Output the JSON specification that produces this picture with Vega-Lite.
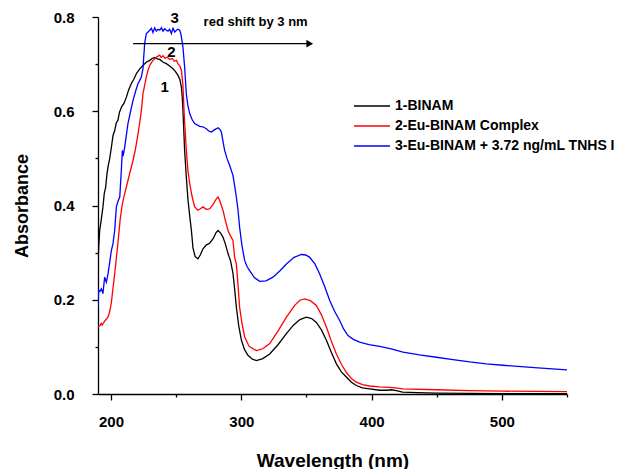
{
  "$schema": "https://vega.github.io/schema/vega-lite/v6.json",
  "autosize": {"type": "none"},
  "width": 469,
  "height": 377,
  "padding": {"left": 98, "top": 17, "right": 54, "bottom": 75},
  "background": "white",
  "config": {
    "view": {"stroke": null},
    "font": "Liberation Sans",
    "axis": {
      "domainColor": "#000000", "domainWidth": 1.3,
      "tickColor": "#000000", "tickWidth": 1.3, "tickSize": 6,
      "labelFont": "Liberation Sans", "labelFontWeight": "bold", "labelFontSize": 15, "labelColor": "#000000",
      "titleFont": "Liberation Sans", "titleFontWeight": "bold", "titleColor": "#000000",
      "grid": false
    }
  },
  "datasets": {
    "spectra": [
      {"series": "1-BINAM", "wavelength": 190.0, "absorbance": 0.27},
      {"series": "1-BINAM", "wavelength": 190.5, "absorbance": 0.31},
      {"series": "1-BINAM", "wavelength": 191.3, "absorbance": 0.347},
      {"series": "1-BINAM", "wavelength": 192.5, "absorbance": 0.37},
      {"series": "1-BINAM", "wavelength": 193.8, "absorbance": 0.397},
      {"series": "1-BINAM", "wavelength": 194.8, "absorbance": 0.425},
      {"series": "1-BINAM", "wavelength": 195.9, "absorbance": 0.439},
      {"series": "1-BINAM", "wavelength": 196.8, "absorbance": 0.465},
      {"series": "1-BINAM", "wavelength": 197.7, "absorbance": 0.482},
      {"series": "1-BINAM", "wavelength": 199.0, "absorbance": 0.5},
      {"series": "1-BINAM", "wavelength": 200.3, "absorbance": 0.524},
      {"series": "1-BINAM", "wavelength": 201.5, "absorbance": 0.548},
      {"series": "1-BINAM", "wavelength": 202.8, "absorbance": 0.559},
      {"series": "1-BINAM", "wavelength": 204.0, "absorbance": 0.575},
      {"series": "1-BINAM", "wavelength": 205.3, "absorbance": 0.581},
      {"series": "1-BINAM", "wavelength": 206.5, "absorbance": 0.598},
      {"series": "1-BINAM", "wavelength": 208.0, "absorbance": 0.609},
      {"series": "1-BINAM", "wavelength": 210.0, "absorbance": 0.617},
      {"series": "1-BINAM", "wavelength": 211.8, "absorbance": 0.63},
      {"series": "1-BINAM", "wavelength": 213.5, "absorbance": 0.645},
      {"series": "1-BINAM", "wavelength": 215.6, "absorbance": 0.659},
      {"series": "1-BINAM", "wavelength": 217.5, "absorbance": 0.668},
      {"series": "1-BINAM", "wavelength": 219.5, "absorbance": 0.68},
      {"series": "1-BINAM", "wavelength": 222.0, "absorbance": 0.69},
      {"series": "1-BINAM", "wavelength": 224.5, "absorbance": 0.697},
      {"series": "1-BINAM", "wavelength": 227.0, "absorbance": 0.704},
      {"series": "1-BINAM", "wavelength": 229.7, "absorbance": 0.708},
      {"series": "1-BINAM", "wavelength": 231.5, "absorbance": 0.712},
      {"series": "1-BINAM", "wavelength": 233.5, "absorbance": 0.714},
      {"series": "1-BINAM", "wavelength": 235.5, "absorbance": 0.711},
      {"series": "1-BINAM", "wavelength": 237.4, "absorbance": 0.71},
      {"series": "1-BINAM", "wavelength": 240.0, "absorbance": 0.704},
      {"series": "1-BINAM", "wavelength": 242.5, "absorbance": 0.701},
      {"series": "1-BINAM", "wavelength": 245.0, "absorbance": 0.696},
      {"series": "1-BINAM", "wavelength": 247.6, "absorbance": 0.69},
      {"series": "1-BINAM", "wavelength": 249.5, "absorbance": 0.684},
      {"series": "1-BINAM", "wavelength": 251.4, "absorbance": 0.676},
      {"series": "1-BINAM", "wavelength": 252.8, "absorbance": 0.668},
      {"series": "1-BINAM", "wavelength": 254.0, "absorbance": 0.651},
      {"series": "1-BINAM", "wavelength": 254.7, "absorbance": 0.63},
      {"series": "1-BINAM", "wavelength": 255.2, "absorbance": 0.602},
      {"series": "1-BINAM", "wavelength": 256.5, "absorbance": 0.517},
      {"series": "1-BINAM", "wavelength": 257.8, "absorbance": 0.46},
      {"series": "1-BINAM", "wavelength": 259.1, "absorbance": 0.411},
      {"series": "1-BINAM", "wavelength": 260.4, "absorbance": 0.378},
      {"series": "1-BINAM", "wavelength": 261.7, "absorbance": 0.347},
      {"series": "1-BINAM", "wavelength": 262.9, "absorbance": 0.31},
      {"series": "1-BINAM", "wavelength": 264.5, "absorbance": 0.292},
      {"series": "1-BINAM", "wavelength": 266.7, "absorbance": 0.287},
      {"series": "1-BINAM", "wavelength": 268.5, "absorbance": 0.295},
      {"series": "1-BINAM", "wavelength": 270.6, "absorbance": 0.308},
      {"series": "1-BINAM", "wavelength": 273.0, "absorbance": 0.316},
      {"series": "1-BINAM", "wavelength": 275.7, "absorbance": 0.32},
      {"series": "1-BINAM", "wavelength": 278.5, "absorbance": 0.33},
      {"series": "1-BINAM", "wavelength": 280.5, "absorbance": 0.342},
      {"series": "1-BINAM", "wavelength": 282.1, "absorbance": 0.347},
      {"series": "1-BINAM", "wavelength": 284.0, "absorbance": 0.342},
      {"series": "1-BINAM", "wavelength": 285.9, "absorbance": 0.333},
      {"series": "1-BINAM", "wavelength": 287.8, "absorbance": 0.318},
      {"series": "1-BINAM", "wavelength": 289.8, "absorbance": 0.298},
      {"series": "1-BINAM", "wavelength": 291.8, "absorbance": 0.282},
      {"series": "1-BINAM", "wavelength": 293.6, "absorbance": 0.256},
      {"series": "1-BINAM", "wavelength": 295.0, "absorbance": 0.22},
      {"series": "1-BINAM", "wavelength": 296.2, "absorbance": 0.184},
      {"series": "1-BINAM", "wavelength": 298.0, "absorbance": 0.145},
      {"series": "1-BINAM", "wavelength": 300.1, "absorbance": 0.114},
      {"series": "1-BINAM", "wavelength": 302.5, "absorbance": 0.094},
      {"series": "1-BINAM", "wavelength": 305.1, "absorbance": 0.082},
      {"series": "1-BINAM", "wavelength": 308.5, "absorbance": 0.074},
      {"series": "1-BINAM", "wavelength": 311.6, "absorbance": 0.071},
      {"series": "1-BINAM", "wavelength": 316.5, "absorbance": 0.075},
      {"series": "1-BINAM", "wavelength": 321.8, "absorbance": 0.085},
      {"series": "1-BINAM", "wavelength": 328.0, "absorbance": 0.104},
      {"series": "1-BINAM", "wavelength": 334.6, "absorbance": 0.128},
      {"series": "1-BINAM", "wavelength": 340.0, "absorbance": 0.146},
      {"series": "1-BINAM", "wavelength": 345.0, "absorbance": 0.158},
      {"series": "1-BINAM", "wavelength": 349.9, "absorbance": 0.163},
      {"series": "1-BINAM", "wavelength": 354.0, "absorbance": 0.16},
      {"series": "1-BINAM", "wavelength": 357.6, "absorbance": 0.152},
      {"series": "1-BINAM", "wavelength": 361.5, "absorbance": 0.136},
      {"series": "1-BINAM", "wavelength": 365.3, "absorbance": 0.114},
      {"series": "1-BINAM", "wavelength": 369.0, "absorbance": 0.089},
      {"series": "1-BINAM", "wavelength": 373.0, "absorbance": 0.064},
      {"series": "1-BINAM", "wavelength": 376.8, "absorbance": 0.047},
      {"series": "1-BINAM", "wavelength": 380.6, "absorbance": 0.036},
      {"series": "1-BINAM", "wavelength": 384.5, "absorbance": 0.025},
      {"series": "1-BINAM", "wavelength": 388.3, "absorbance": 0.018},
      {"series": "1-BINAM", "wavelength": 393.0, "absorbance": 0.013},
      {"series": "1-BINAM", "wavelength": 398.5, "absorbance": 0.011},
      {"series": "1-BINAM", "wavelength": 406.2, "absorbance": 0.008},
      {"series": "1-BINAM", "wavelength": 412.0, "absorbance": 0.008},
      {"series": "1-BINAM", "wavelength": 415.2, "absorbance": 0.009},
      {"series": "1-BINAM", "wavelength": 419.0, "absorbance": 0.007},
      {"series": "1-BINAM", "wavelength": 423.8, "absorbance": 0.004},
      {"series": "1-BINAM", "wavelength": 435.0, "absorbance": 0.003},
      {"series": "1-BINAM", "wavelength": 449.7, "absorbance": 0.002},
      {"series": "1-BINAM", "wavelength": 500.0, "absorbance": 0.001},
      {"series": "1-BINAM", "wavelength": 550.0, "absorbance": 0.001},

      {"series": "2-Eu-BINAM Complex", "wavelength": 190.0, "absorbance": 0.142},
      {"series": "2-Eu-BINAM Complex", "wavelength": 191.5, "absorbance": 0.145},
      {"series": "2-Eu-BINAM Complex", "wavelength": 192.5, "absorbance": 0.15},
      {"series": "2-Eu-BINAM Complex", "wavelength": 193.2, "absorbance": 0.146},
      {"series": "2-Eu-BINAM Complex", "wavelength": 193.8, "absorbance": 0.149},
      {"series": "2-Eu-BINAM Complex", "wavelength": 195.5, "absorbance": 0.156},
      {"series": "2-Eu-BINAM Complex", "wavelength": 197.7, "absorbance": 0.163},
      {"series": "2-Eu-BINAM Complex", "wavelength": 199.0, "absorbance": 0.175},
      {"series": "2-Eu-BINAM Complex", "wavelength": 200.3, "absorbance": 0.195},
      {"series": "2-Eu-BINAM Complex", "wavelength": 203.0, "absorbance": 0.26},
      {"series": "2-Eu-BINAM Complex", "wavelength": 205.3, "absorbance": 0.32},
      {"series": "2-Eu-BINAM Complex", "wavelength": 207.0, "absorbance": 0.37},
      {"series": "2-Eu-BINAM Complex", "wavelength": 208.5, "absorbance": 0.4},
      {"series": "2-Eu-BINAM Complex", "wavelength": 210.0, "absorbance": 0.42},
      {"series": "2-Eu-BINAM Complex", "wavelength": 213.0, "absorbance": 0.453},
      {"series": "2-Eu-BINAM Complex", "wavelength": 216.9, "absorbance": 0.496},
      {"series": "2-Eu-BINAM Complex", "wavelength": 218.8, "absorbance": 0.52},
      {"series": "2-Eu-BINAM Complex", "wavelength": 220.7, "absorbance": 0.552},
      {"series": "2-Eu-BINAM Complex", "wavelength": 222.0, "absorbance": 0.575},
      {"series": "2-Eu-BINAM Complex", "wavelength": 223.3, "absorbance": 0.602},
      {"series": "2-Eu-BINAM Complex", "wavelength": 224.5, "absorbance": 0.637},
      {"series": "2-Eu-BINAM Complex", "wavelength": 225.8, "absorbance": 0.655},
      {"series": "2-Eu-BINAM Complex", "wavelength": 227.1, "absorbance": 0.673},
      {"series": "2-Eu-BINAM Complex", "wavelength": 228.5, "absorbance": 0.688},
      {"series": "2-Eu-BINAM Complex", "wavelength": 229.7, "absorbance": 0.697},
      {"series": "2-Eu-BINAM Complex", "wavelength": 231.0, "absorbance": 0.703},
      {"series": "2-Eu-BINAM Complex", "wavelength": 232.2, "absorbance": 0.708},
      {"series": "2-Eu-BINAM Complex", "wavelength": 234.0, "absorbance": 0.712},
      {"series": "2-Eu-BINAM Complex", "wavelength": 235.5, "absorbance": 0.716},
      {"series": "2-Eu-BINAM Complex", "wavelength": 237.4, "absorbance": 0.719},
      {"series": "2-Eu-BINAM Complex", "wavelength": 238.5, "absorbance": 0.714},
      {"series": "2-Eu-BINAM Complex", "wavelength": 239.9, "absorbance": 0.718},
      {"series": "2-Eu-BINAM Complex", "wavelength": 241.5, "absorbance": 0.712},
      {"series": "2-Eu-BINAM Complex", "wavelength": 243.0, "absorbance": 0.715},
      {"series": "2-Eu-BINAM Complex", "wavelength": 245.0, "absorbance": 0.71},
      {"series": "2-Eu-BINAM Complex", "wavelength": 247.0, "absorbance": 0.712},
      {"series": "2-Eu-BINAM Complex", "wavelength": 248.5, "absorbance": 0.706},
      {"series": "2-Eu-BINAM Complex", "wavelength": 250.2, "absorbance": 0.708},
      {"series": "2-Eu-BINAM Complex", "wavelength": 251.5, "absorbance": 0.7},
      {"series": "2-Eu-BINAM Complex", "wavelength": 252.7, "absorbance": 0.697},
      {"series": "2-Eu-BINAM Complex", "wavelength": 254.0, "absorbance": 0.687},
      {"series": "2-Eu-BINAM Complex", "wavelength": 255.2, "absorbance": 0.655},
      {"series": "2-Eu-BINAM Complex", "wavelength": 256.2, "absorbance": 0.591},
      {"series": "2-Eu-BINAM Complex", "wavelength": 257.8, "absorbance": 0.517},
      {"series": "2-Eu-BINAM Complex", "wavelength": 259.0, "absorbance": 0.475},
      {"series": "2-Eu-BINAM Complex", "wavelength": 260.4, "absorbance": 0.446},
      {"series": "2-Eu-BINAM Complex", "wavelength": 262.3, "absorbance": 0.418},
      {"series": "2-Eu-BINAM Complex", "wavelength": 264.2, "absorbance": 0.397},
      {"series": "2-Eu-BINAM Complex", "wavelength": 266.7, "absorbance": 0.39},
      {"series": "2-Eu-BINAM Complex", "wavelength": 268.5, "absorbance": 0.393},
      {"series": "2-Eu-BINAM Complex", "wavelength": 270.6, "absorbance": 0.397},
      {"series": "2-Eu-BINAM Complex", "wavelength": 273.0, "absorbance": 0.392},
      {"series": "2-Eu-BINAM Complex", "wavelength": 275.7, "absorbance": 0.393},
      {"series": "2-Eu-BINAM Complex", "wavelength": 278.5, "absorbance": 0.403},
      {"series": "2-Eu-BINAM Complex", "wavelength": 280.8, "absorbance": 0.414},
      {"series": "2-Eu-BINAM Complex", "wavelength": 282.1, "absorbance": 0.418},
      {"series": "2-Eu-BINAM Complex", "wavelength": 283.5, "absorbance": 0.41},
      {"series": "2-Eu-BINAM Complex", "wavelength": 285.9, "absorbance": 0.39},
      {"series": "2-Eu-BINAM Complex", "wavelength": 287.8, "absorbance": 0.368},
      {"series": "2-Eu-BINAM Complex", "wavelength": 289.8, "absorbance": 0.347},
      {"series": "2-Eu-BINAM Complex", "wavelength": 291.8, "absorbance": 0.335},
      {"series": "2-Eu-BINAM Complex", "wavelength": 293.6, "absorbance": 0.326},
      {"series": "2-Eu-BINAM Complex", "wavelength": 294.9, "absorbance": 0.29},
      {"series": "2-Eu-BINAM Complex", "wavelength": 296.2, "absorbance": 0.276},
      {"series": "2-Eu-BINAM Complex", "wavelength": 297.5, "absorbance": 0.23},
      {"series": "2-Eu-BINAM Complex", "wavelength": 298.7, "absorbance": 0.184},
      {"series": "2-Eu-BINAM Complex", "wavelength": 300.5, "absorbance": 0.15},
      {"series": "2-Eu-BINAM Complex", "wavelength": 302.6, "absorbance": 0.121},
      {"series": "2-Eu-BINAM Complex", "wavelength": 306.0, "absorbance": 0.101},
      {"series": "2-Eu-BINAM Complex", "wavelength": 311.6, "absorbance": 0.092},
      {"series": "2-Eu-BINAM Complex", "wavelength": 316.5, "absorbance": 0.096},
      {"series": "2-Eu-BINAM Complex", "wavelength": 321.8, "absorbance": 0.107},
      {"series": "2-Eu-BINAM Complex", "wavelength": 328.0, "absorbance": 0.133},
      {"series": "2-Eu-BINAM Complex", "wavelength": 334.6, "absorbance": 0.163},
      {"series": "2-Eu-BINAM Complex", "wavelength": 341.0, "absorbance": 0.188},
      {"series": "2-Eu-BINAM Complex", "wavelength": 345.0, "absorbance": 0.199},
      {"series": "2-Eu-BINAM Complex", "wavelength": 348.6, "absorbance": 0.202},
      {"series": "2-Eu-BINAM Complex", "wavelength": 353.0, "absorbance": 0.198},
      {"series": "2-Eu-BINAM Complex", "wavelength": 357.6, "absorbance": 0.188},
      {"series": "2-Eu-BINAM Complex", "wavelength": 361.5, "absorbance": 0.168},
      {"series": "2-Eu-BINAM Complex", "wavelength": 365.3, "absorbance": 0.142},
      {"series": "2-Eu-BINAM Complex", "wavelength": 369.0, "absorbance": 0.113},
      {"series": "2-Eu-BINAM Complex", "wavelength": 373.0, "absorbance": 0.085},
      {"series": "2-Eu-BINAM Complex", "wavelength": 376.8, "absorbance": 0.063},
      {"series": "2-Eu-BINAM Complex", "wavelength": 380.6, "absorbance": 0.046},
      {"series": "2-Eu-BINAM Complex", "wavelength": 384.5, "absorbance": 0.033},
      {"series": "2-Eu-BINAM Complex", "wavelength": 388.3, "absorbance": 0.025},
      {"series": "2-Eu-BINAM Complex", "wavelength": 393.0, "absorbance": 0.02},
      {"series": "2-Eu-BINAM Complex", "wavelength": 398.5, "absorbance": 0.017},
      {"series": "2-Eu-BINAM Complex", "wavelength": 406.0, "absorbance": 0.015},
      {"series": "2-Eu-BINAM Complex", "wavelength": 413.8, "absorbance": 0.014},
      {"series": "2-Eu-BINAM Complex", "wavelength": 418.0, "absorbance": 0.013},
      {"series": "2-Eu-BINAM Complex", "wavelength": 424.1, "absorbance": 0.011},
      {"series": "2-Eu-BINAM Complex", "wavelength": 449.7, "absorbance": 0.009},
      {"series": "2-Eu-BINAM Complex", "wavelength": 475.0, "absorbance": 0.007},
      {"series": "2-Eu-BINAM Complex", "wavelength": 500.8, "absorbance": 0.006},
      {"series": "2-Eu-BINAM Complex", "wavelength": 550.0, "absorbance": 0.005},

      {"series": "3-Eu-BINAM + 3.72 ng/mL TNHS I", "wavelength": 190.0, "absorbance": 0.184},
      {"series": "3-Eu-BINAM + 3.72 ng/mL TNHS I", "wavelength": 190.5, "absorbance": 0.22},
      {"series": "3-Eu-BINAM + 3.72 ng/mL TNHS I", "wavelength": 191.5, "absorbance": 0.218},
      {"series": "3-Eu-BINAM + 3.72 ng/mL TNHS I", "wavelength": 192.6, "absorbance": 0.223},
      {"series": "3-Eu-BINAM + 3.72 ng/mL TNHS I", "wavelength": 193.8, "absorbance": 0.213},
      {"series": "3-Eu-BINAM + 3.72 ng/mL TNHS I", "wavelength": 195.1, "absorbance": 0.248},
      {"series": "3-Eu-BINAM + 3.72 ng/mL TNHS I", "wavelength": 196.4, "absorbance": 0.237},
      {"series": "3-Eu-BINAM + 3.72 ng/mL TNHS I", "wavelength": 197.7, "absorbance": 0.255},
      {"series": "3-Eu-BINAM + 3.72 ng/mL TNHS I", "wavelength": 199.0, "absorbance": 0.28},
      {"series": "3-Eu-BINAM + 3.72 ng/mL TNHS I", "wavelength": 200.3, "absorbance": 0.305},
      {"series": "3-Eu-BINAM + 3.72 ng/mL TNHS I", "wavelength": 201.5, "absorbance": 0.319},
      {"series": "3-Eu-BINAM + 3.72 ng/mL TNHS I", "wavelength": 202.8, "absorbance": 0.347},
      {"series": "3-Eu-BINAM + 3.72 ng/mL TNHS I", "wavelength": 204.1, "absorbance": 0.397},
      {"series": "3-Eu-BINAM + 3.72 ng/mL TNHS I", "wavelength": 205.5, "absorbance": 0.41},
      {"series": "3-Eu-BINAM + 3.72 ng/mL TNHS I", "wavelength": 206.7, "absorbance": 0.418},
      {"series": "3-Eu-BINAM + 3.72 ng/mL TNHS I", "wavelength": 207.8, "absorbance": 0.47},
      {"series": "3-Eu-BINAM + 3.72 ng/mL TNHS I", "wavelength": 208.7, "absorbance": 0.517},
      {"series": "3-Eu-BINAM + 3.72 ng/mL TNHS I", "wavelength": 209.3, "absorbance": 0.505},
      {"series": "3-Eu-BINAM + 3.72 ng/mL TNHS I", "wavelength": 210.5, "absorbance": 0.524},
      {"series": "3-Eu-BINAM + 3.72 ng/mL TNHS I", "wavelength": 211.8, "absorbance": 0.55},
      {"series": "3-Eu-BINAM + 3.72 ng/mL TNHS I", "wavelength": 213.0, "absorbance": 0.574},
      {"series": "3-Eu-BINAM + 3.72 ng/mL TNHS I", "wavelength": 215.0, "absorbance": 0.6},
      {"series": "3-Eu-BINAM + 3.72 ng/mL TNHS I", "wavelength": 216.9, "absorbance": 0.623},
      {"series": "3-Eu-BINAM + 3.72 ng/mL TNHS I", "wavelength": 218.8, "absorbance": 0.642},
      {"series": "3-Eu-BINAM + 3.72 ng/mL TNHS I", "wavelength": 220.7, "absorbance": 0.659},
      {"series": "3-Eu-BINAM + 3.72 ng/mL TNHS I", "wavelength": 222.0, "absorbance": 0.665},
      {"series": "3-Eu-BINAM + 3.72 ng/mL TNHS I", "wavelength": 223.3, "absorbance": 0.673},
      {"series": "3-Eu-BINAM + 3.72 ng/mL TNHS I", "wavelength": 224.5, "absorbance": 0.69},
      {"series": "3-Eu-BINAM + 3.72 ng/mL TNHS I", "wavelength": 225.1, "absorbance": 0.715},
      {"series": "3-Eu-BINAM + 3.72 ng/mL TNHS I", "wavelength": 225.5, "absorbance": 0.73},
      {"series": "3-Eu-BINAM + 3.72 ng/mL TNHS I", "wavelength": 225.8, "absorbance": 0.744},
      {"series": "3-Eu-BINAM + 3.72 ng/mL TNHS I", "wavelength": 227.1, "absorbance": 0.765},
      {"series": "3-Eu-BINAM + 3.72 ng/mL TNHS I", "wavelength": 228.4, "absorbance": 0.768},
      {"series": "3-Eu-BINAM + 3.72 ng/mL TNHS I", "wavelength": 229.7, "absorbance": 0.772},
      {"series": "3-Eu-BINAM + 3.72 ng/mL TNHS I", "wavelength": 231.0, "absorbance": 0.776},
      {"series": "3-Eu-BINAM + 3.72 ng/mL TNHS I", "wavelength": 232.2, "absorbance": 0.767},
      {"series": "3-Eu-BINAM + 3.72 ng/mL TNHS I", "wavelength": 233.5, "absorbance": 0.777},
      {"series": "3-Eu-BINAM + 3.72 ng/mL TNHS I", "wavelength": 234.8, "absorbance": 0.77},
      {"series": "3-Eu-BINAM + 3.72 ng/mL TNHS I", "wavelength": 236.0, "absorbance": 0.774},
      {"series": "3-Eu-BINAM + 3.72 ng/mL TNHS I", "wavelength": 237.4, "absorbance": 0.772},
      {"series": "3-Eu-BINAM + 3.72 ng/mL TNHS I", "wavelength": 238.7, "absorbance": 0.777},
      {"series": "3-Eu-BINAM + 3.72 ng/mL TNHS I", "wavelength": 239.9, "absorbance": 0.77},
      {"series": "3-Eu-BINAM + 3.72 ng/mL TNHS I", "wavelength": 241.2, "absorbance": 0.775},
      {"series": "3-Eu-BINAM + 3.72 ng/mL TNHS I", "wavelength": 242.5, "absorbance": 0.772},
      {"series": "3-Eu-BINAM + 3.72 ng/mL TNHS I", "wavelength": 243.7, "absorbance": 0.77},
      {"series": "3-Eu-BINAM + 3.72 ng/mL TNHS I", "wavelength": 245.0, "absorbance": 0.774},
      {"series": "3-Eu-BINAM + 3.72 ng/mL TNHS I", "wavelength": 246.3, "absorbance": 0.765},
      {"series": "3-Eu-BINAM + 3.72 ng/mL TNHS I", "wavelength": 247.6, "absorbance": 0.776},
      {"series": "3-Eu-BINAM + 3.72 ng/mL TNHS I", "wavelength": 248.9, "absorbance": 0.768},
      {"series": "3-Eu-BINAM + 3.72 ng/mL TNHS I", "wavelength": 250.2, "absorbance": 0.772},
      {"series": "3-Eu-BINAM + 3.72 ng/mL TNHS I", "wavelength": 251.4, "absorbance": 0.774},
      {"series": "3-Eu-BINAM + 3.72 ng/mL TNHS I", "wavelength": 252.7, "absorbance": 0.772},
      {"series": "3-Eu-BINAM + 3.72 ng/mL TNHS I", "wavelength": 253.5, "absorbance": 0.765},
      {"series": "3-Eu-BINAM + 3.72 ng/mL TNHS I", "wavelength": 254.0, "absorbance": 0.758},
      {"series": "3-Eu-BINAM + 3.72 ng/mL TNHS I", "wavelength": 255.2, "absorbance": 0.736},
      {"series": "3-Eu-BINAM + 3.72 ng/mL TNHS I", "wavelength": 256.5, "absorbance": 0.694},
      {"series": "3-Eu-BINAM + 3.72 ng/mL TNHS I", "wavelength": 257.8, "absorbance": 0.637},
      {"series": "3-Eu-BINAM + 3.72 ng/mL TNHS I", "wavelength": 259.0, "absorbance": 0.612},
      {"series": "3-Eu-BINAM + 3.72 ng/mL TNHS I", "wavelength": 260.4, "absorbance": 0.595},
      {"series": "3-Eu-BINAM + 3.72 ng/mL TNHS I", "wavelength": 262.3, "absorbance": 0.582},
      {"series": "3-Eu-BINAM + 3.72 ng/mL TNHS I", "wavelength": 264.2, "absorbance": 0.574},
      {"series": "3-Eu-BINAM + 3.72 ng/mL TNHS I", "wavelength": 266.0, "absorbance": 0.571},
      {"series": "3-Eu-BINAM + 3.72 ng/mL TNHS I", "wavelength": 268.1, "absorbance": 0.568},
      {"series": "3-Eu-BINAM + 3.72 ng/mL TNHS I", "wavelength": 270.5, "absorbance": 0.567},
      {"series": "3-Eu-BINAM + 3.72 ng/mL TNHS I", "wavelength": 273.2, "absorbance": 0.563},
      {"series": "3-Eu-BINAM + 3.72 ng/mL TNHS I", "wavelength": 275.0, "absorbance": 0.558},
      {"series": "3-Eu-BINAM + 3.72 ng/mL TNHS I", "wavelength": 277.0, "absorbance": 0.556},
      {"series": "3-Eu-BINAM + 3.72 ng/mL TNHS I", "wavelength": 279.0, "absorbance": 0.56},
      {"series": "3-Eu-BINAM + 3.72 ng/mL TNHS I", "wavelength": 280.9, "absorbance": 0.563},
      {"series": "3-Eu-BINAM + 3.72 ng/mL TNHS I", "wavelength": 282.1, "absorbance": 0.565},
      {"series": "3-Eu-BINAM + 3.72 ng/mL TNHS I", "wavelength": 283.5, "absorbance": 0.562},
      {"series": "3-Eu-BINAM + 3.72 ng/mL TNHS I", "wavelength": 284.7, "absorbance": 0.556},
      {"series": "3-Eu-BINAM + 3.72 ng/mL TNHS I", "wavelength": 286.0, "absorbance": 0.535},
      {"series": "3-Eu-BINAM + 3.72 ng/mL TNHS I", "wavelength": 287.2, "absorbance": 0.517},
      {"series": "3-Eu-BINAM + 3.72 ng/mL TNHS I", "wavelength": 289.0, "absorbance": 0.5},
      {"series": "3-Eu-BINAM + 3.72 ng/mL TNHS I", "wavelength": 291.1, "absorbance": 0.485},
      {"series": "3-Eu-BINAM + 3.72 ng/mL TNHS I", "wavelength": 293.6, "absorbance": 0.464},
      {"series": "3-Eu-BINAM + 3.72 ng/mL TNHS I", "wavelength": 295.0, "absorbance": 0.44},
      {"series": "3-Eu-BINAM + 3.72 ng/mL TNHS I", "wavelength": 296.2, "absorbance": 0.418},
      {"series": "3-Eu-BINAM + 3.72 ng/mL TNHS I", "wavelength": 297.5, "absorbance": 0.39},
      {"series": "3-Eu-BINAM + 3.72 ng/mL TNHS I", "wavelength": 298.7, "absorbance": 0.354},
      {"series": "3-Eu-BINAM + 3.72 ng/mL TNHS I", "wavelength": 300.5, "absorbance": 0.315},
      {"series": "3-Eu-BINAM + 3.72 ng/mL TNHS I", "wavelength": 302.6, "absorbance": 0.283},
      {"series": "3-Eu-BINAM + 3.72 ng/mL TNHS I", "wavelength": 304.5, "absorbance": 0.27},
      {"series": "3-Eu-BINAM + 3.72 ng/mL TNHS I", "wavelength": 306.4, "absorbance": 0.262},
      {"series": "3-Eu-BINAM + 3.72 ng/mL TNHS I", "wavelength": 310.0, "absorbance": 0.247},
      {"series": "3-Eu-BINAM + 3.72 ng/mL TNHS I", "wavelength": 314.1, "absorbance": 0.239},
      {"series": "3-Eu-BINAM + 3.72 ng/mL TNHS I", "wavelength": 319.0, "absorbance": 0.24},
      {"series": "3-Eu-BINAM + 3.72 ng/mL TNHS I", "wavelength": 324.3, "absorbance": 0.248},
      {"series": "3-Eu-BINAM + 3.72 ng/mL TNHS I", "wavelength": 329.5, "absorbance": 0.261},
      {"series": "3-Eu-BINAM + 3.72 ng/mL TNHS I", "wavelength": 334.6, "absorbance": 0.276},
      {"series": "3-Eu-BINAM + 3.72 ng/mL TNHS I", "wavelength": 340.5, "absorbance": 0.29},
      {"series": "3-Eu-BINAM + 3.72 ng/mL TNHS I", "wavelength": 346.1, "absorbance": 0.296},
      {"series": "3-Eu-BINAM + 3.72 ng/mL TNHS I", "wavelength": 349.5, "absorbance": 0.295},
      {"series": "3-Eu-BINAM + 3.72 ng/mL TNHS I", "wavelength": 352.5, "absorbance": 0.29},
      {"series": "3-Eu-BINAM + 3.72 ng/mL TNHS I", "wavelength": 356.5, "absorbance": 0.276},
      {"series": "3-Eu-BINAM + 3.72 ng/mL TNHS I", "wavelength": 360.1, "absorbance": 0.255},
      {"series": "3-Eu-BINAM + 3.72 ng/mL TNHS I", "wavelength": 364.0, "absorbance": 0.228},
      {"series": "3-Eu-BINAM + 3.72 ng/mL TNHS I", "wavelength": 367.8, "absorbance": 0.199},
      {"series": "3-Eu-BINAM + 3.72 ng/mL TNHS I", "wavelength": 371.5, "absorbance": 0.176},
      {"series": "3-Eu-BINAM + 3.72 ng/mL TNHS I", "wavelength": 375.5, "absorbance": 0.156},
      {"series": "3-Eu-BINAM + 3.72 ng/mL TNHS I", "wavelength": 378.5, "absorbance": 0.138},
      {"series": "3-Eu-BINAM + 3.72 ng/mL TNHS I", "wavelength": 381.9, "absorbance": 0.124},
      {"series": "3-Eu-BINAM + 3.72 ng/mL TNHS I", "wavelength": 386.0, "absorbance": 0.116},
      {"series": "3-Eu-BINAM + 3.72 ng/mL TNHS I", "wavelength": 390.8, "absorbance": 0.11},
      {"series": "3-Eu-BINAM + 3.72 ng/mL TNHS I", "wavelength": 398.0, "absorbance": 0.105},
      {"series": "3-Eu-BINAM + 3.72 ng/mL TNHS I", "wavelength": 406.2, "absorbance": 0.101},
      {"series": "3-Eu-BINAM + 3.72 ng/mL TNHS I", "wavelength": 415.0, "absorbance": 0.096},
      {"series": "3-Eu-BINAM + 3.72 ng/mL TNHS I", "wavelength": 424.1, "absorbance": 0.089},
      {"series": "3-Eu-BINAM + 3.72 ng/mL TNHS I", "wavelength": 436.7, "absorbance": 0.083},
      {"series": "3-Eu-BINAM + 3.72 ng/mL TNHS I", "wavelength": 449.7, "absorbance": 0.078},
      {"series": "3-Eu-BINAM + 3.72 ng/mL TNHS I", "wavelength": 462.5, "absorbance": 0.073},
      {"series": "3-Eu-BINAM + 3.72 ng/mL TNHS I", "wavelength": 475.3, "absorbance": 0.068},
      {"series": "3-Eu-BINAM + 3.72 ng/mL TNHS I", "wavelength": 488.0, "absorbance": 0.064},
      {"series": "3-Eu-BINAM + 3.72 ng/mL TNHS I", "wavelength": 500.8, "absorbance": 0.061},
      {"series": "3-Eu-BINAM + 3.72 ng/mL TNHS I", "wavelength": 525.0, "absorbance": 0.056},
      {"series": "3-Eu-BINAM + 3.72 ng/mL TNHS I", "wavelength": 550.0, "absorbance": 0.051}
    ],
    "numbers": [
      {"wavelength": 248.9, "absorbance": 0.797, "label": "3"},
      {"wavelength": 246.3, "absorbance": 0.726, "label": "2"},
      {"wavelength": 241.2, "absorbance": 0.651, "label": "1"}
    ],
    "caption": [
      {"wavelength": 311.0, "absorbance": 0.79, "label": "red shift by 3 nm"}
    ],
    "arrow": [
      {"start": 216.9, "end": 351.0, "tip": 352.5, "absorbance": 0.7435}
    ]
  },
  "layer": [
    {
      "data": {"name": "spectra"},
      "mark": {"type": "line", "strokeWidth": 1.3, "clip": true},
      "encoding": {
        "x": {
          "field": "wavelength", "type": "quantitative",
          "scale": {"domain": [190, 550], "nice": false, "zero": false},
          "axis": {"orient": "bottom", "values": [200, 300, 400, 500], "title": "Wavelength (nm)", "titleFontSize": 19, "labelPadding": 14, "titlePadding": 22, "labelFlush": false}
        },
        "y": {
          "field": "absorbance", "type": "quantitative",
          "scale": {"domain": [0, 0.8], "nice": false},
          "axis": {"orient": "left", "values": [0, 0.2, 0.4, 0.6, 0.8], "format": ".1f", "title": "Absorbance", "titleFontSize": 18, "labelPadding": 18, "titlePadding": 22, "labelFlush": false}
        },
        "color": {
          "field": "series", "type": "nominal",
          "scale": {"domain": ["1-BINAM", "2-Eu-BINAM Complex", "3-Eu-BINAM + 3.72 ng/mL TNHS I"], "range": ["#000000", "#ff0000", "#0000ff"]},
          "legend": {
            "orient": "none", "legendX": 264, "legendY": 79, "title": null,
            "symbolType": "M-2,0H2", "symbolSize": 324, "symbolStrokeWidth": 1.5, "symbolFillColor": "transparent",
            "labelFont": "Liberation Sans", "labelFontWeight": "bold", "labelFontSize": 14, "labelColor": "#000000",
            "labelOffset": 13, "rowPadding": 3, "padding": 0, "labelLimit": 400
          }
        }
      }
    },
    {
      "data": {"name": "numbers"},
      "mark": {"type": "text", "font": "Liberation Sans", "fontWeight": "bold", "fontSize": 15, "color": "#000000"},
      "encoding": {
        "x": {"field": "wavelength", "type": "quantitative",
              "axis": {"orient": "bottom", "values": [250, 350, 450, 550], "tickSize": 3, "labels": false, "domain": false, "title": null}},
        "y": {"field": "absorbance", "type": "quantitative",
              "axis": {"orient": "left", "values": [0.1, 0.3, 0.5, 0.7], "tickSize": 3, "labels": false, "domain": false, "title": null}},
        "text": {"field": "label"}
      }
    },
    {
      "data": {"name": "caption"},
      "mark": {"type": "text", "font": "Liberation Sans", "fontWeight": "bold", "fontSize": 13, "color": "#000000"},
      "encoding": {
        "x": {"field": "wavelength", "type": "quantitative", "axis": null},
        "y": {"field": "absorbance", "type": "quantitative", "axis": null},
        "text": {"field": "label"}
      }
    },
    {
      "data": {"name": "arrow"},
      "mark": {"type": "rule", "color": "#000000", "strokeWidth": 1.3},
      "encoding": {
        "x": {"field": "start", "type": "quantitative", "axis": null},
        "x2": {"field": "end"},
        "y": {"field": "absorbance", "type": "quantitative", "axis": null}
      }
    },
    {
      "data": {"name": "arrow"},
      "mark": {"type": "point", "shape": "triangle-right", "filled": true, "color": "#000000", "size": 60, "opacity": 1},
      "encoding": {
        "x": {"field": "tip", "type": "quantitative", "axis": null},
        "y": {"field": "absorbance", "type": "quantitative", "axis": null}
      }
    }
  ],
  "resolve": {"axis": {"x": "independent", "y": "independent"}}
}
